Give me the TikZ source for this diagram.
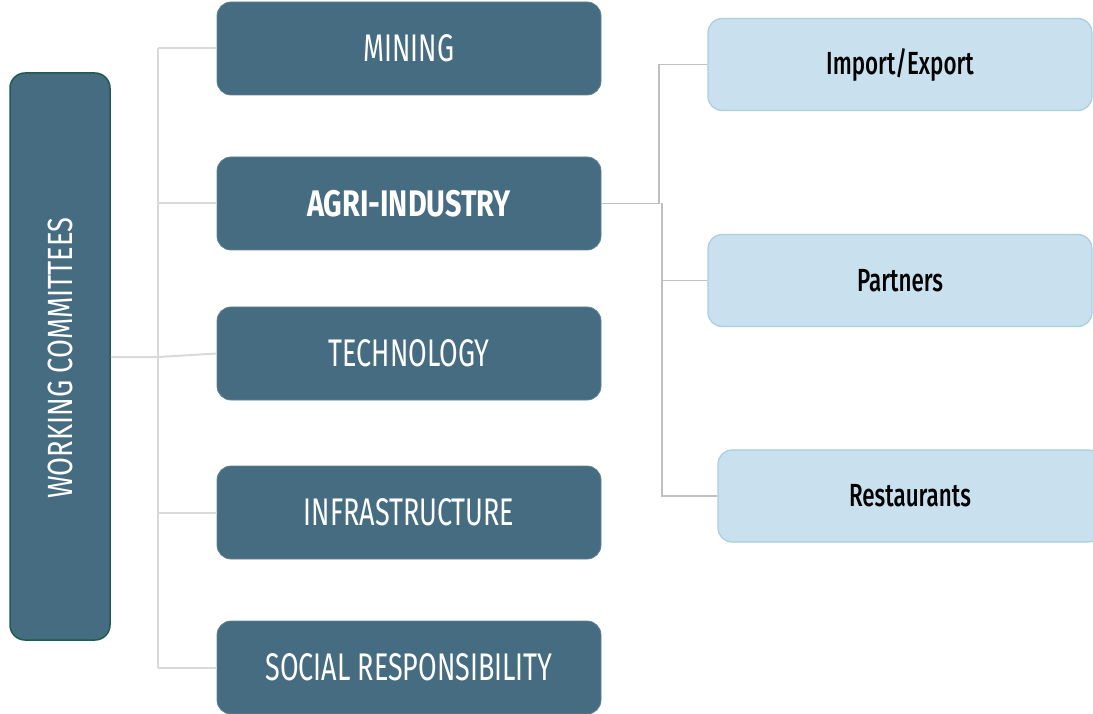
\documentclass[tikz,border=0pt]{standalone}
\usepackage{fontspec}
\setmainfont{Fira Sans}
\newfontfamily\midfont[FakeStretch=0.70]{Fira Sans}
\newfontfamily\vertfont[FakeStretch=0.78]{Fira Sans}
\newfontfamily\boldfont[FakeStretch=0.78]{Fira Sans}
\newfontfamily\rightfont[FakeStretch=0.70]{Fira Sans Medium}
\definecolor{boxblue}{HTML}{466C82}
\definecolor{boxedge}{HTML}{1F5C4F}
\definecolor{lightfill}{HTML}{C9E1EE}
\definecolor{lightedge}{HTML}{A9CDE0}
\definecolor{linegray}{HTML}{D9D9D9}
\definecolor{linegray2}{HTML}{C0C0C0}
\tikzset{
  midbox/.style={rectangle, rounded corners=14pt, fill=boxblue, draw=boxblue!85!white, line width=0.8pt,
    minimum width=384pt, minimum height=93pt, text=white, font=\midfont\fontsize{38.5}{42}\selectfont, inner sep=0pt},
  wcbox/.style={rectangle, rounded corners=15pt, fill=boxblue, draw=boxedge, line width=1.5pt,
    minimum width=100pt, minimum height=567pt, inner sep=0pt},
  rbox/.style={rectangle, rounded corners=14pt, fill=lightfill, draw=lightedge, line width=1.2pt,
    minimum width=384pt, minimum height=92pt, text=black, font=\rightfont\fontsize{32}{35}\selectfont, inner sep=0pt},
  conn/.style={draw=linegray, line width=2pt},
  conn2/.style={draw=linegray2, line width=1.8pt}
}
\begin{document}
\begin{tikzpicture}[x=1pt,y=-1pt]
\useasboundingbox (0,0) rectangle (1093,714);
\coordinate (trunk) at (158,357);
\node[wcbox] (wc) at (60,356.5) {};
\node[rotate=90, text=white, font=\vertfont\fontsize{35}{38}\selectfont, inner sep=0pt] (wct) at (60,358) {WORKING COMMITTEES};
\node[midbox] (mining) at (409,48.5) {MINING};
\node[midbox, font=\boldfont\bfseries\fontsize{37}{40}\selectfont] (agri) at (409,203.5) {AGRI-INDUSTRY};
\node[midbox] (tech) at (409,353.5) {TECHNOLOGY};
\node[midbox] (infra) at (409,512.5) {INFRASTRUCTURE};
\node[midbox] (social) at (409,667.5) {SOCIAL RESPONSIBILITY};
\node[rbox] (imp) at (900,64.5) {Import/Export};
\node[rbox] (part) at (900,280.5) {Partners};
\node[rbox] (rest) at (910,496) {Restaurants};
% left tree
\coordinate (top) at (158,48.5);
\coordinate (bot) at (158,667.5);
\draw[conn] (top) -- (bot);
\draw[conn] (top) -- (mining.west);
\draw[conn] (158,203.5) -- (agri.west);
\draw[conn] (wc.east |- trunk) -- (trunk) -- (tech.west);
\draw[conn] (158,512.5) -- (infra.west);
\draw[conn] (bot) -- (social.west);
% right tree
\coordinate (rj) at (660,203.5);
\draw[conn2] (agri.east) -- (rj);
\draw[conn2] (659,203.5) |- (imp.west);
\draw[conn2] (662,203.5) |- (part.west);
\draw[conn2] (662,203.5) |- (rest.west);
\end{tikzpicture}
\end{document}
